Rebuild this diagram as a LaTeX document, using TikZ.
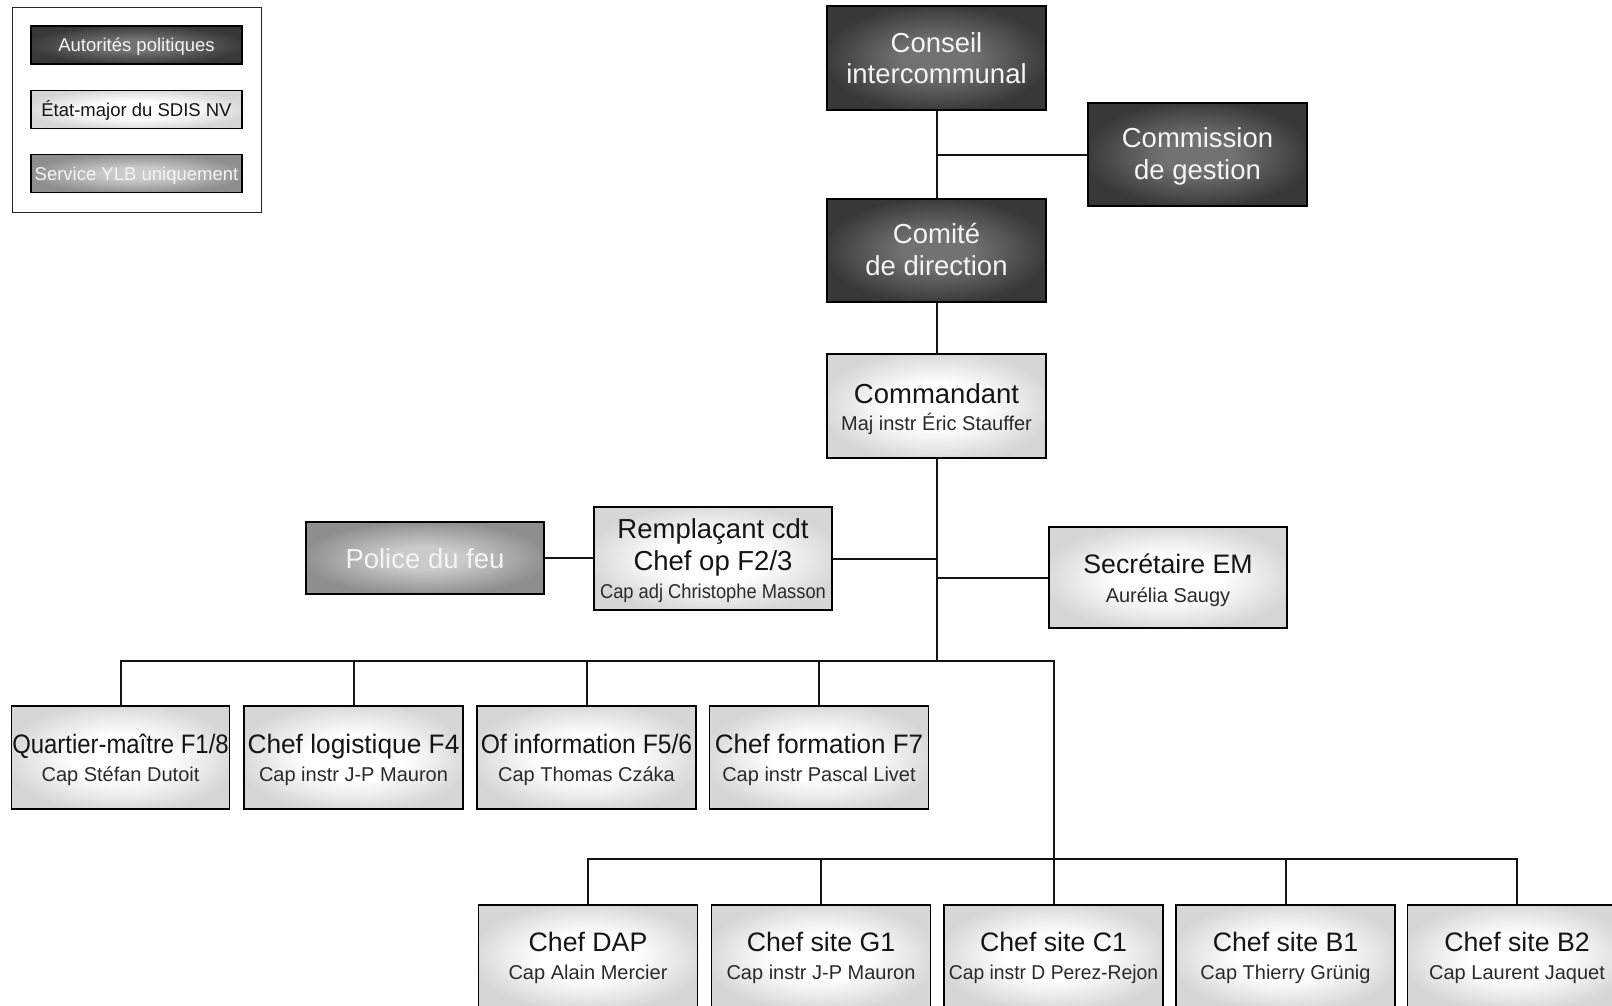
\documentclass[tikz,border=0pt]{standalone}
\usepackage{fontspec}
\usepackage{graphicx}
\setmainfont{Liberation Sans}
\definecolor{darkin}{HTML}{727272}
\definecolor{darkout}{HTML}{383838}
\definecolor{lightin}{HTML}{FFFFFF}
\definecolor{lightout}{HTML}{D6D6D6}
\definecolor{midin}{HTML}{CACACA}
\definecolor{midout}{HTML}{8E8E8E}
\definecolor{inktext}{HTML}{151515}
\definecolor{subtext}{HTML}{2A2A2A}
\definecolor{paletext}{HTML}{F4F4F4}
\pgfdeclareradialshading{darkshade}{\pgfpoint{0bp}{0bp}}{color(0bp)=(darkin); color(8bp)=(darkin); color(26bp)=(darkout); color(50bp)=(darkout)}
\pgfdeclareradialshading{lightshade}{\pgfpoint{0bp}{0bp}}{color(0bp)=(lightin); color(11bp)=(lightin); color(27bp)=(lightout); color(50bp)=(lightout)}
\pgfdeclareradialshading{midshade}{\pgfpoint{0bp}{0bp}}{color(0bp)=(midin); color(8bp)=(midin); color(26bp)=(midout); color(50bp)=(midout)}
\tikzset{
  box/.style={rectangle, draw=black, line width=1.9pt, inner sep=0pt,
    minimum width=219pt, minimum height=103pt},
  darkbox/.style={box, shade, shading=darkshade},
  lightbox/.style={box, shade, shading=lightshade},
  midbox/.style={box, shade, shading=midshade},
  wideshape/.style={minimum width=238pt},
  legbox/.style={line width=1.4pt, minimum width=211pt, minimum height=38pt},
  legframe/.style={rectangle, draw=black!85, line width=0.9pt, inner sep=0pt,
    minimum width=249pt, minimum height=205pt},
  ttlA/.style={anchor=base, inner sep=0pt, font=\fontsize{27.5}{31}\selectfont, text=inktext},
  ttlB/.style={anchor=base, inner sep=0pt, font=\fontsize{26.7}{31}\selectfont, text=inktext},
  ttlW/.style={ttlA, text=paletext},
  subt/.style={anchor=base, inner sep=0pt, font=\fontsize{20}{24}\selectfont, text=subtext},
  legt/.style={anchor=base, inner sep=0pt, font=\fontsize{18.5}{22}\selectfont},
  conn/.style={line width=2pt, draw=black!92, line join=miter},
}
\begin{document}
\begin{tikzpicture}[x=1pt,y=-1pt]
\useasboundingbox (0,0) rectangle (1612,1005);
\clip (0,0) rectangle (1612,1005);

% ---------- legend ----------
\node[legframe] (legend) at (136.5,109.5) {};
\node[darkbox, legbox] (lg1) at (136.5,45) {};
\node[legt, text=paletext] (lg1t) at (136.5,51.5) {Autorités politiques};
\node[lightbox, legbox] (lg2) at (136.5,109.5) {};
\node[legt, text=inktext] (lg2t) at (136.5,116) {État-major du SDIS NV};
\node[midbox, legbox] (lg3) at (136.5,173.5) {};
\node[legt, text=paletext] (lg3t) at (136.5,180) {Service YLB uniquement};

% ---------- political authorities ----------
\node[darkbox, minimum height=104pt] (conseil) at (936.5,58) {};
\node[ttlW] (conseilt1) at (936.5,52) {Conseil};
\node[ttlW] (conseilt2) at (936.5,83) {intercommunal};

\node[darkbox] (commission) at (1197.5,154.5) {};
\node[ttlW] (commissiont1) at (1197.5,147) {Commission};
\node[ttlW] (commissiont2) at (1197.5,179) {de gestion};

\node[darkbox] (comite) at (936.5,250.5) {};
\node[ttlW] (comitet1) at (936.5,243.5) {Comité};
\node[ttlW] (comitet2) at (936.5,275.5) {de direction};

% ---------- staff ----------
\node[lightbox, minimum height=104pt] (commandant) at (936.5,406) {};
\node[ttlA] (commandantt1) at (936.5,403) {Commandant};
\node[subt] (commandantt2) at (936.5,430) {Maj instr Éric Stauffer};

\node[midbox, wideshape, minimum height=72pt] (police) at (425,558) {};
\node[ttlW] (policet) at (425,568) {Police du feu};

\node[lightbox, wideshape] (remplacant) at (713,558.5) {};
\node[ttlA] (remplacantt1) at (713,538.5) {Remplaçant cdt};
\node[ttlA] (remplacantt2) at (713,570) {Chef op F2/3};
\node[subt] (remplacantt3) at (713,598) {\scalebox{0.915}[1]{Cap adj Christophe Masson}};

\node[lightbox, wideshape, minimum height=101pt] (secretaire) at (1168,577.5) {};
\node[ttlB] (secretairet1) at (1168,573.5) {Secrétaire EM};
\node[subt] (secretairet2) at (1168,602) {Aurélia Saugy};

% ---------- row 1 ----------
\node[lightbox, minimum width=218pt] (q1) at (120.5,757.5) {};
\node[ttlB] (q1t1) at (120.5,753) {\scalebox{0.895}[1]{Quartier-maître F1/8}};
\node[subt] (q1t2) at (120.5,781) {Cap Stéfan Dutoit};

\node[lightbox] (q2) at (353.5,757.5) {};
\node[ttlB] (q2t1) at (353.5,753) {\scalebox{0.985}[1]{Chef logistique F4}};
\node[subt] (q2t2) at (353.5,781) {Cap instr J-P Mauron};

\node[lightbox] (q3) at (586.5,757.5) {};
\node[ttlB] (q3t1) at (586.5,753) {\scalebox{0.925}[1]{Of information F5/6}};
\node[subt] (q3t2) at (586.5,781) {Cap Thomas Czáka};

\node[lightbox] (q4) at (819,757.5) {};
\node[ttlB] (q4t1) at (819,753) {\scalebox{0.975}[1]{Chef formation F7}};
\node[subt] (q4t2) at (819,781) {Cap instr Pascal Livet};

% ---------- row 2 ----------
\node[lightbox] (s1) at (588,956.5) {};
\node[ttlB] (s1t1) at (588,951) {Chef DAP};
\node[subt] (s1t2) at (588,979) {Cap Alain Mercier};

\node[lightbox] (s2) at (821,956.5) {};
\node[ttlB] (s2t1) at (821,951) {Chef site G1};
\node[subt] (s2t2) at (821,979) {Cap instr J-P Mauron};

\node[lightbox] (s3) at (1053.5,956.5) {};
\node[ttlB] (s3t1) at (1053.5,951) {Chef site C1};
\node[subt] (s3t2) at (1053.5,979) {\scalebox{0.965}[1]{Cap instr D Perez-Rejon}};

\node[lightbox] (s4) at (1285.5,956.5) {};
\node[ttlB] (s4t1) at (1285.5,951) {Chef site B1};
\node[subt] (s4t2) at (1285.5,979) {Cap Thierry Grünig};

\node[lightbox] (s5) at (1517,956.5) {};
\node[ttlB] (s5t1) at (1517,951) {Chef site B2};
\node[subt] (s5t2) at (1517,979) {Cap Laurent Jaquet};

% ---------- junctions ----------
\coordinate (j1) at (936.5,154.5);
\coordinate (b1) at (936.5,661);
\coordinate (b1r) at (1053.5,661);
\coordinate (b2) at (1053.5,859);

% ---------- connectors ----------
\draw[conn] (conseil.south) -- (comite.north);
\draw[conn] (j1) -- (commission.west);
\draw[conn] (comite.south) -- (commandant.north);
\draw[conn] (commandant.south) -- (b1);
\draw[conn] (police.east) -- (police.east -| remplacant.west);
\draw[conn] (remplacant.east) -- (remplacant.east -| b1);
\draw[conn] (secretaire.west) -- (secretaire.west -| b1);
\draw[conn] (q1.north) -- (q1.north |- b1) -- (b1r) -- (b2);
\draw[conn] (q2.north) -- (q2.north |- b1);
\draw[conn] (q3.north) -- (q3.north |- b1);
\draw[conn] (q4.north) -- (q4.north |- b1);
\draw[conn] (s1.north) -- (s1.north |- b2) -- (s5.north |- b2) -- (s5.north);
\draw[conn] (s2.north) -- (s2.north |- b2);
\draw[conn] (b2) -- (s3.north);
\draw[conn] (s4.north) -- (s4.north |- b2);
\end{tikzpicture}
\end{document}
